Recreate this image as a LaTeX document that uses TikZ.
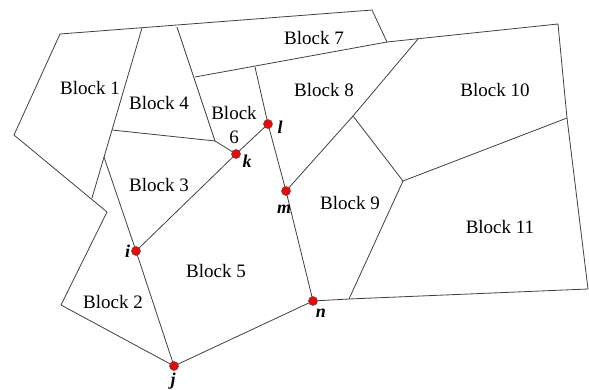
\documentclass[tikz,border=0pt]{standalone}
\usepackage{fontspec}
\setmainfont{Liberation Serif}
\begin{document}
\begin{tikzpicture}[x=1pt,y=-1pt,
  edge/.style={draw=black!75,line width=0.8pt,line join=round},
  blocklabel/.style={font=\fontsize{19}{21}\selectfont,inner sep=0pt},
  ptlabel/.style={font=\fontsize{18}{19}\selectfont\bfseries\itshape,inner sep=0pt},
  dot/.style={circle,fill=red,draw=black!70,line width=0.5pt,minimum size=9pt,inner sep=0pt}]
\useasboundingbox (0,0) rectangle (589,389);
% outline and interior vertices
\coordinate (A) at (60,34);
\coordinate (B) at (142,28);
\coordinate (C) at (177,27);
\coordinate (D) at (372,10);
\coordinate (E) at (387,42);
\coordinate (F) at (418,39);
\coordinate (G) at (558,24);
\coordinate (H) at (567,118);
\coordinate (I) at (588,289);
\coordinate (J) at (349,299);
\coordinate (P) at (61,305);
\coordinate (Q) at (107,212);
\coordinate (R) at (92,198);
\coordinate (S) at (14,135);
\coordinate (T) at (112,130);
\coordinate (U) at (104,157);
\coordinate (V) at (215,141);
\coordinate (W) at (195,77);
\coordinate (X) at (255,67);
\coordinate (Y) at (353,116);
\coordinate (Z) at (403,181);
% key points
\coordinate (i) at (136,251);
\coordinate (j) at (174,366);
\coordinate (k) at (236,154);
\coordinate (l) at (268,124);
\coordinate (m) at (286,191);
\coordinate (n) at (313,301);

% outer boundary
\draw[edge] (A) -- (D) -- (E) -- (G) -- (H) -- (I) -- (J) -- (n) -- (j) -- (P) -- (Q) -- (S) -- cycle;
% interior boundaries
\draw[edge] (B) -- (R);
\draw[edge] (U) -- (i) -- (j);
\draw[edge] (T) -- (V) -- (k);
\draw[edge] (C) -- (V);
\draw[edge] (W) -- (E);
\draw[edge] (X) -- (l) -- (m) -- (n);
\draw[edge] (l) -- (k) -- (i);
\draw[edge] (m) -- (Y) -- (F);
\draw[edge] (Y) -- (Z);
\draw[edge] (Z) -- (H);
\draw[edge] (Z) -- (J);

% block names
\node[blocklabel] (b1) at (90,88) {Block 1};
\node[blocklabel] (b2) at (113,302) {Block 2};
\node[blocklabel] (b3) at (159,185) {Block 3};
\node[blocklabel] (b4) at (159,103) {Block 4};
\node[blocklabel] (b5) at (216,271) {Block 5};
\node[blocklabel,align=center,font=\fontsize{19}{24}\selectfont] (b6) at (234,125) {Block\\6};
\node[blocklabel] (b7) at (314,38) {Block 7};
\node[blocklabel] (b8) at (324,90) {Block 8};
\node[blocklabel] (b9) at (350,203) {Block 9};
\node[blocklabel] (b10) at (495,90) {Block 10};
\node[blocklabel] (b11) at (500,227) {Block 11};

% key points with their letters
\foreach \p in {i,j,k,l,m,n} \node[dot] (d\p) at (\p) {};
\node[ptlabel,anchor=east] (li) at ([xshift=-1pt]di.west) {i};
\node[ptlabel] (lj) at (173,381) {j};
\node[ptlabel] (lk) at (247,161) {k};
\node[ptlabel] (ll) at (280,127) {l};
\node[ptlabel] (lm) at (284,209) {m};
\node[ptlabel] (ln) at (321,313) {n};
\end{tikzpicture}
\end{document}
